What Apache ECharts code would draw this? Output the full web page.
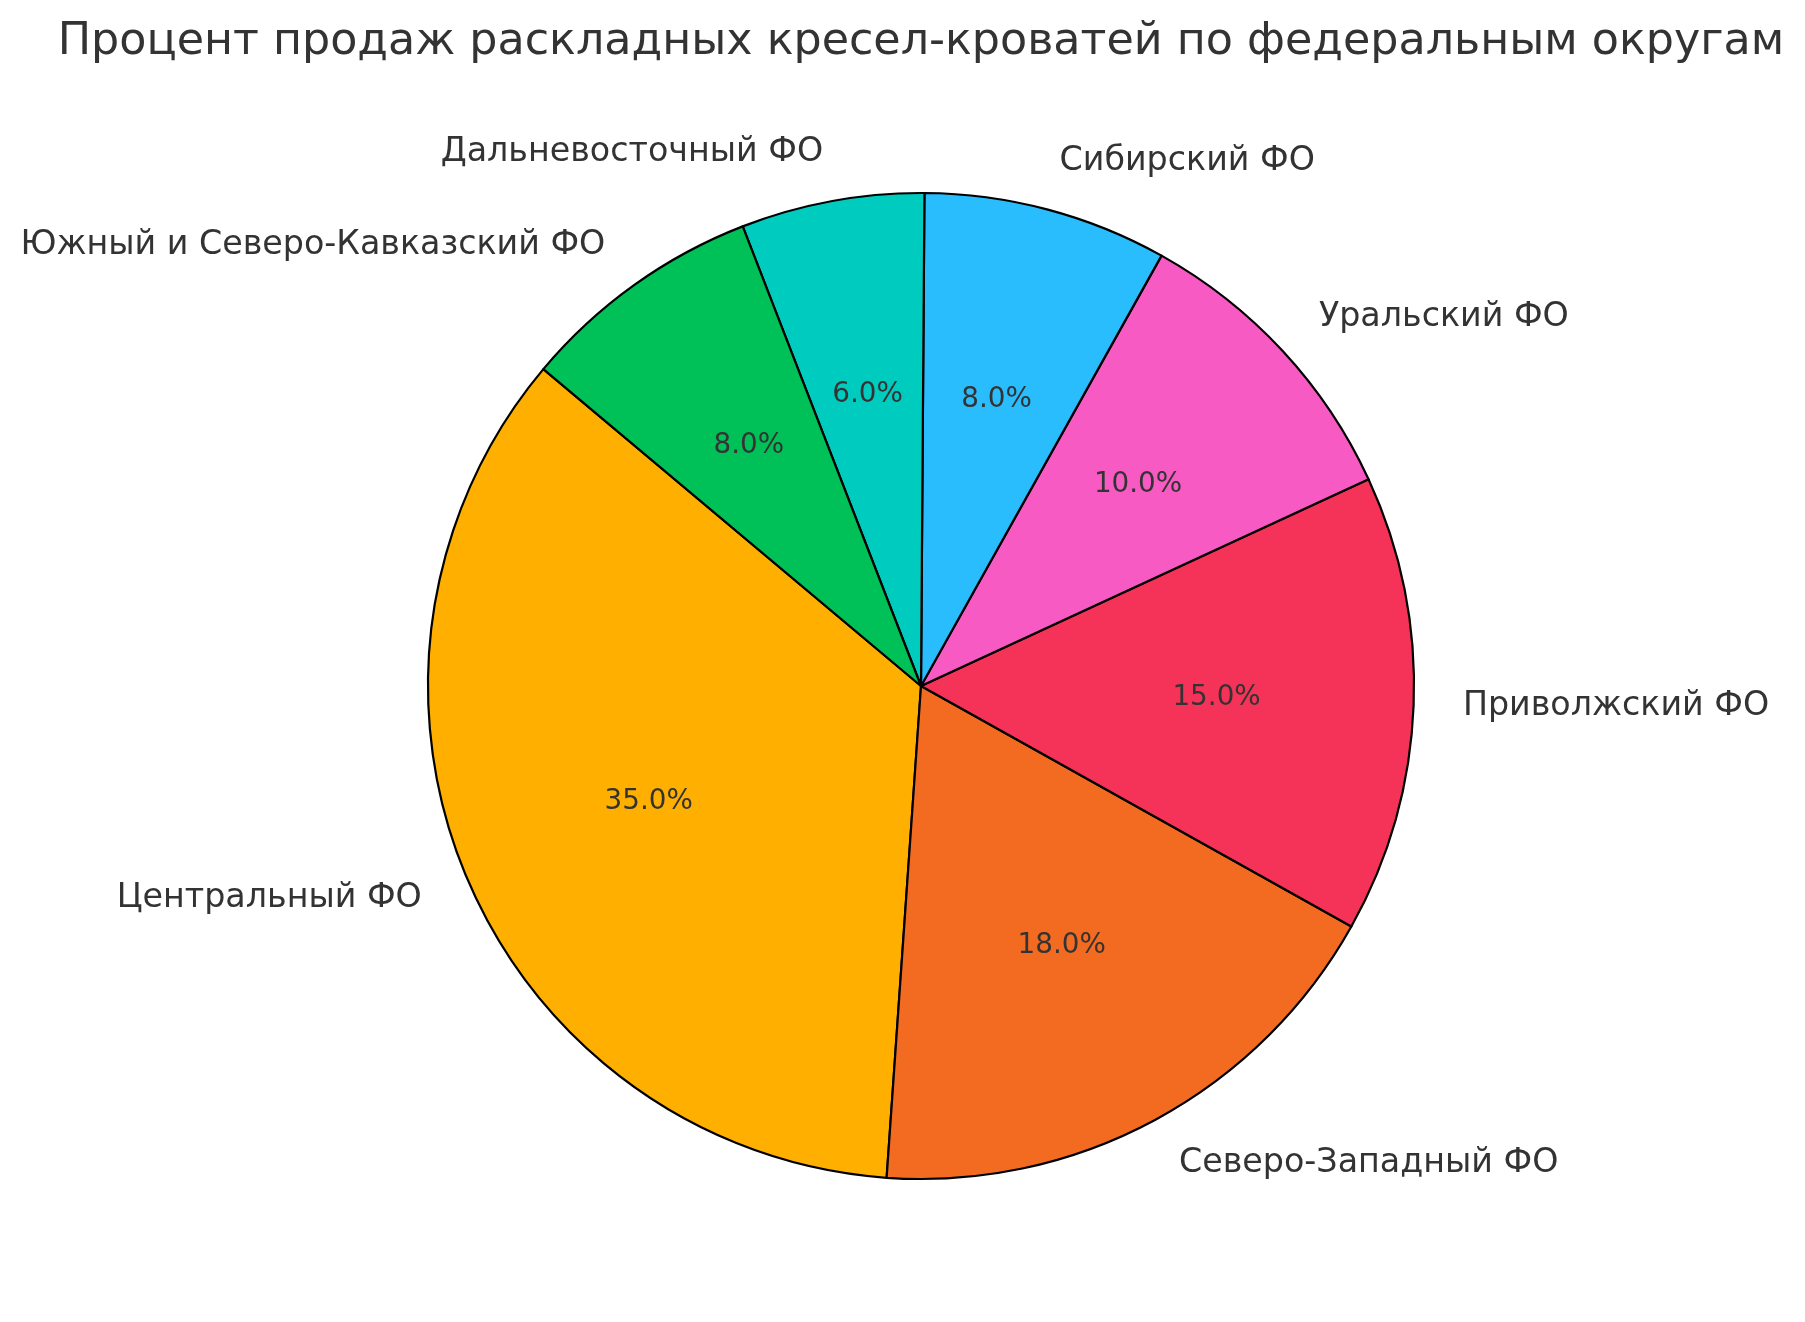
<!DOCTYPE html>
<html>
<head>
<meta charset="utf-8">
<script src="https://cdn.jsdelivr.net/npm/echarts@6/dist/echarts.min.js"></script>
<style>
html,body{margin:0;padding:0;background:#fff;}
#chart{width:1805px;height:1322px;}
</style>
</head>
<body>
<div id="chart"></div>
<script>
const titleText = 'Процент продаж раскладных кресел-кроватей по федеральным округам';
const categories = ['Центральный ФО', 'Северо-Западный ФО', 'Приволжский ФО', 'Уральский ФО', 'Сибирский ФО', 'Дальневосточный ФО', 'Южный и Северо-Кавказский ФО'];
const shares = [35, 18, 15, 10, 8, 6, 8];
const sliceColors = ['#FFAF00', '#F26B21', '#F53257', '#F75AC3', '#29BDFD', '#00CBBF', '#00C157'];

const R = 493;
const CX = 921, CY = 686;
const FONT = 'DejaVu Sans';

const data = categories.map((c, i) => ({ name: c, value: shares[i], itemStyle: { color: sliceColors[i] } }));
const dataPct = categories.map((c, i) => ({ name: c, value: shares[i] }));

const chart = echarts.init(document.getElementById('chart'), null, { renderer: 'canvas' });
chart.setOption({
  backgroundColor: '#ffffff',
  animation: false,
  title: {
    text: titleText,
    left: CX - 5,
    textAlign: 'center',
    top: 15,
    textStyle: { fontFamily: FONT, fontSize: 44.4, fontWeight: 'normal', color: '#333333' }
  },
  series: [
    {
      type: 'pie',
      center: [CX, CY],
      radius: [0, R],
      startAngle: 140,
      clockwise: false,
      avoidLabelOverlap: false,
      silent: true,
      emphasis: { disabled: true },
      itemStyle: { borderColor: '#000000', borderWidth: 2.2 },
      label: {
        show: true,
        position: 'outside',
        alignTo: 'none',
        distanceToLabelLine: 0,
        fontFamily: FONT,
        fontSize: 33.3,
        color: '#333333',
        formatter: '{b}'
      },
      labelLine: { show: false, length: R * 0.1, length2: 0 },
      data: data
    },
    {
      type: 'pie',
      center: [CX, CY],
      radius: [R * 0.2 - 6, R],
      startAngle: 140,
      clockwise: false,
      avoidLabelOverlap: false,
      silent: true,
      emphasis: { disabled: true },
      itemStyle: { color: 'rgba(0,0,0,0)', borderWidth: 0 },
      label: {
        show: true,
        position: 'inside',
        fontFamily: FONT,
        fontSize: 27.8,
        color: '#333333',
        formatter: p => p.percent.toFixed(1) + '%'
      },
      labelLine: { show: false },
      data: dataPct
    }
  ]
});
</script>
</body>
</html>
